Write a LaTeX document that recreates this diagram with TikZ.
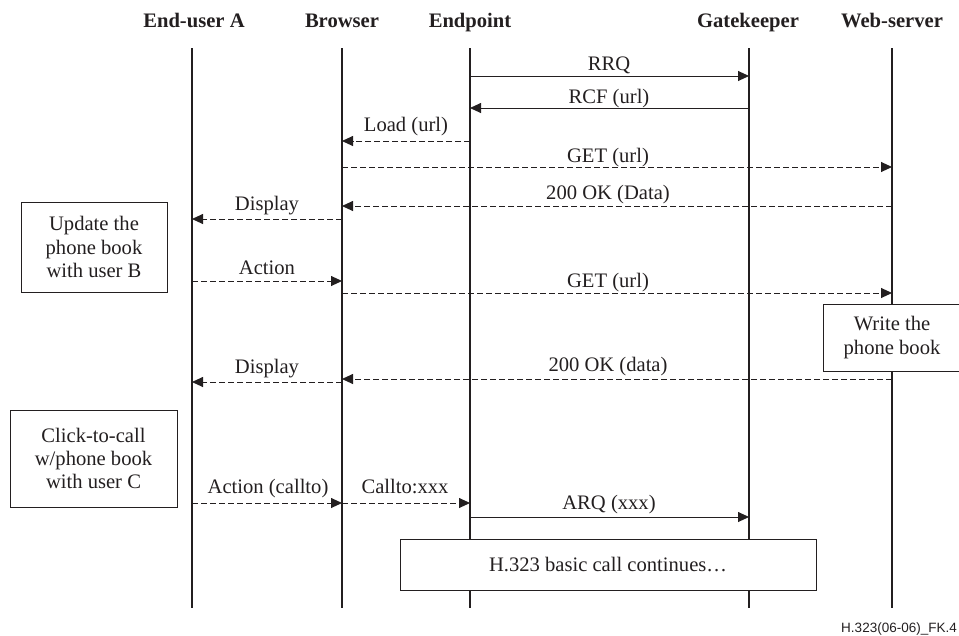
\documentclass[tikz,border=0pt]{standalone}
\usepackage{fontspec}
\setmainfont{Liberation Serif}
\newfontfamily\footfont{Liberation Sans}
\usetikzlibrary{arrows.meta}
\definecolor{ink}{HTML}{231F20}
\begin{document}
\begin{tikzpicture}[x=1pt,y=-1pt,
  lifeline/.style={line width=2.4pt, draw=ink},
  msg/.style={line width=0.9pt, draw=ink, -{Triangle[length=11pt,width=10pt]}},
  async/.style={msg, dash pattern=on 6pt off 3pt},
  lbl/.style={font=\fontsize{20.6}{24}\selectfont, text=ink, inner sep=0pt, anchor=base},
  head/.style={font=\fontsize{20.6}{24}\selectfont\bfseries, text=ink, inner sep=0pt, anchor=base},
  notebox/.style={draw=ink, line width=0.9pt, fill=white, align=center, font=\fontsize{20.6}{23.5}\selectfont, text=ink, inner sep=0pt}
]
\useasboundingbox (0,0) rectangle (959,635);

% headers
\node[head] (hA) at (194,27) {End-user A};
\node[head] (hB) at (342,27) {Browser};
\node[head] (hE) at (470,27) {Endpoint};
\node[head] (hG) at (748,27) {Gatekeeper};
\node[head] (hW) at (892,27) {Web-server};

% lifelines
\coordinate (A) at (192,48);  \coordinate (A2) at (192,608);
\coordinate (B) at (342,48);  \coordinate (B2) at (342,608);
\coordinate (E) at (470,48);  \coordinate (E2) at (470,608);
\coordinate (G) at (749,48);  \coordinate (G2) at (749,608);
\coordinate (W) at (892,48);  \coordinate (W2) at (892,608);
\foreach \l in {A,B,E,G,W} { \draw[lifeline] (\l) -- (\l2); }

% messages
\draw[msg] (E |- 0,76) -- (G |- 0,76);
\node[lbl] (m1) at (609,70) {RRQ};
\draw[msg] (G |- 0,108) -- (E |- 0,108);
\node[lbl] (m2) at (609,103) {RCF (url)};
\draw[async] (E |- 0,141) -- (B |- 0,141);
\node[lbl] (m3) at (406,131) {Load (url)};
\draw[async] (B |- 0,167) -- (W |- 0,167);
\node[lbl] (m4) at (608,162) {GET (url)};
\draw[async] (W |- 0,206) -- (B |- 0,206);
\node[lbl] (m5) at (608,199) {200 OK (Data)};
\draw[async] (B |- 0,219) -- (A |- 0,219);
\node[lbl] (m6) at (267,210) {Display};
\draw[async] (A |- 0,281) -- (B |- 0,281);
\node[lbl] (m7) at (267,274) {Action};
\draw[async] (B |- 0,293) -- (W |- 0,293);
\node[lbl] (m8) at (608,287) {GET (url)};
\draw[async] (W |- 0,379) -- (B |- 0,379);
\node[lbl] (m9) at (608,371) {200 OK (data)};
\draw[async] (B |- 0,382) -- (A |- 0,382);
\node[lbl] (m10) at (267,373) {Display};
\draw[async] (A |- 0,503) -- (B |- 0,503);
\node[lbl] (m11) at (268,493) {Action (callto)};
\draw[async] (B |- 0,503) -- (E |- 0,503);
\node[lbl] (m12) at (405,493) {Callto:xxx};
\draw[msg] (E |- 0,517) -- (G |- 0,517);
\node[lbl] (m13) at (609,509) {ARQ (xxx)};

% note boxes
\node[notebox, minimum width=146pt, minimum height=90pt] (upd) at (94,247) {Update the\\phone book\\with user B};
\node[notebox, minimum width=138pt, minimum height=67pt] (wrt) at (892,337.5) {Write the\\phone book};
\node[notebox, minimum width=167pt, minimum height=97pt, font=\fontsize{20.6}{23}\selectfont] (clk) at (93.5,458.5) {Click-to-call\\w/phone book\\with user C};
\node[notebox, minimum width=416pt, minimum height=51pt] (cont) at (608,564.5) {H.323 basic call continues…};

% figure id
\node[font=\footfont\fontsize{13.5}{16}\selectfont, text=ink, anchor=base east, inner sep=0pt] (fig) at (957,632) {H.323(06-06)\_FK.4};
\end{tikzpicture}
\end{document}
